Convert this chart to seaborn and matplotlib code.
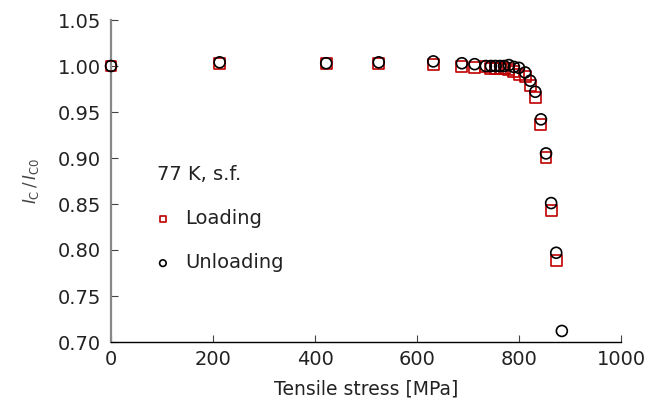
import matplotlib
matplotlib.use("Agg")
import matplotlib.pyplot as plt
import seaborn as sns
import pandas as pd

sns.set_style("white")
plt.rcParams['font.family'] = ['DejaVu Sans']
plt.rcParams['mathtext.fontset'] = 'dejavusans'

# Data
loading_stress = [0, 213, 422, 525, 632, 688, 713, 735, 745, 754, 763, 771, 780, 790, 800, 812, 822, 832, 843, 853, 863, 873]
loading_ratio = [1.000, 1.003, 1.003, 1.003, 1.002, 0.999, 0.998, 0.999, 0.997, 0.997, 0.997, 0.997, 0.996, 0.994, 0.991, 0.989, 0.979, 0.966, 0.936, 0.901, 0.843, 0.789]

unloading_stress = [0, 213, 422, 525, 632, 688, 713, 735, 745, 754, 763, 771, 780, 790, 800, 812, 822, 832, 843, 853, 863, 873, 884]
unloading_ratio = [1.000, 1.004, 1.003, 1.004, 1.005, 1.003, 1.002, 1.000, 1.000, 1.000, 1.000, 1.000, 1.001, 0.999, 0.998, 0.993, 0.984, 0.972, 0.942, 0.905, 0.851, 0.797, 0.712]

x_ticks = [0, 200, 400, 600, 800, 1000]
y_ticks = [0.70, 0.75, 0.80, 0.85, 0.90, 0.95, 1.00, 1.05]

df_load = pd.DataFrame({"stress": loading_stress, "ratio": loading_ratio})
df_unload = pd.DataFrame({"stress": unloading_stress, "ratio": unloading_ratio})

fig = plt.figure(figsize=(6.61, 4.03), dpi=100)
ax = fig.add_axes([111/661, 1-342/403, 510/661, 322/403])

sns.scatterplot(data=df_load, x="stress", y="ratio", ax=ax, marker="s", s=62,
                facecolor="none", edgecolor="#c00000", linewidth=1.2, label="Loading",
                zorder=3, clip_on=False)
sns.scatterplot(data=df_unload, x="stress", y="ratio", ax=ax, marker="o", s=62,
                facecolor="none", edgecolor="black", linewidth=1.2, label="Unloading",
                zorder=4, clip_on=False)

ax.set_xlim(0, 1000)
ax.set_ylim(0.70, 1.05)
ax.set_xticks(x_ticks)
ax.set_xticklabels([str(v) for v in x_ticks])
ax.set_yticks(y_ticks)
ax.set_yticklabels([f"{v:.2f}" for v in y_ticks])

for s in ["top", "right"]:
    ax.spines[s].set_visible(False)
ax.spines["left"].set_color("#888888")
ax.spines["left"].set_linewidth(1.6)
ax.spines["bottom"].set_color("black")
ax.spines["bottom"].set_linewidth(1.0)

ax.tick_params(axis="both", which="major", bottom=True, left=True, direction="in",
               length=5, width=0.8, colors="#444444", labelsize=14, labelcolor="#222222")
ax.tick_params(axis="x", pad=6)
ax.tick_params(axis="y", pad=7)

ax.set_xlabel("Tensile stress [MPa]", fontsize=13.5, color="#222222", labelpad=7)
ax.set_ylabel(r"$I_\mathrm{C}\,/\,I_\mathrm{C0}$", fontsize=12, color="#444444", labelpad=12)

leg = ax.legend(title="77 K, s.f.", loc="upper left", bbox_to_anchor=(0.056, 0.605),
                frameon=False, fontsize=14, title_fontsize=14, markerscale=0.6,
                handlelength=0.6, handletextpad=0.86, labelspacing=1.3, alignment="left")
for t in leg.get_texts():
    t.set_color("#222222")
leg.get_title().set_color("#222222")

fig.savefig("out.png", dpi=100)
